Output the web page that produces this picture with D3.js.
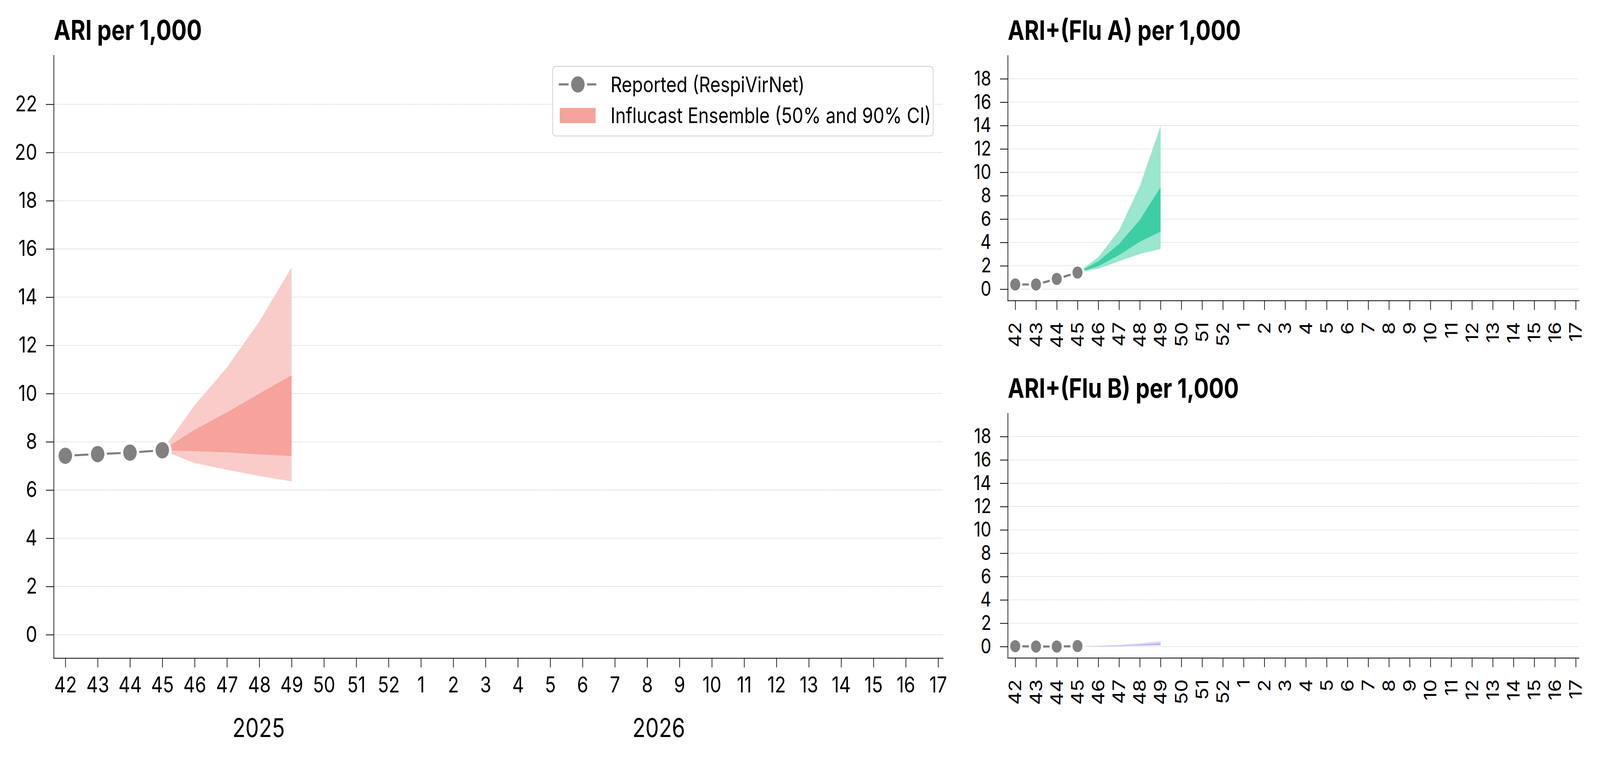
<!DOCTYPE html>
<html>
<head>
  <meta charset="utf-8">
  <script src="https://d3js.org/d3.v7.min.js"></script>
  <style>
    html, body { margin: 0; padding: 0; background: #fff; overflow: hidden; }
    #chart { display: block; width: 100vw; height: 100vh; }
    text { font-family: Inter, "Noto Sans", sans-serif; fill: #000; }
    .title { font-weight: 700; }
    .grid line { stroke: #cccccc; stroke-width: 1.3; stroke-dasharray: 3.5 1.5; }
    .axis path, .axis line { stroke: #000; stroke-width: 2; }
  </style>
</head>
<body>
<!-- drawn in 4948x1950 units, stretched to whatever window we get -->
<svg id="chart" viewBox="0 0 4948 1950" preserveAspectRatio="none"></svg>
<script>
  // week labels on the x axis (season 2025/26)
  const weekLabels = ["42", "43", "44", "45", "46", "47", "48", "49", "50", "51", "52",
    "1", "2", "3", "4", "5", "6", "7", "8", "9", "10", "11", "12", "13", "14", "15", "16", "17"];
  const reportedWeeks = ["42", "43", "44", "45"];
  const forecastWeeks = ["45", "46", "47", "48", "49"];

  // ARI per 1,000
  const ariReported = [7.42, 7.49, 7.55, 7.65];
  const ariQ05 = [7.65, 7.12, 6.84, 6.58, 6.36];
  const ariQ25 = [7.65, 7.61, 7.56, 7.48, 7.41];
  const ariQ75 = [7.65, 8.50, 9.22, 10.00, 10.76];
  const ariQ95 = [7.65, 9.52, 11.08, 12.99, 15.23];

  // ARI+ (Flu A) per 1,000
  const fluAReported = [0.40, 0.40, 0.88, 1.42];
  const fluAQ05 = [1.42, 1.75, 2.38, 3.02, 3.44];
  const fluAQ25 = [1.42, 1.96, 2.92, 4.05, 4.92];
  const fluAQ75 = [1.42, 2.38, 3.86, 5.93, 8.72];
  const fluAQ95 = [1.42, 2.73, 5.03, 8.81, 13.96];

  // ARI+ (Flu B) per 1,000
  const fluBReported = [0.03, 0.00, 0.00, 0.04];
  const fluBQ05 = [0.04, 0.01, 0.03, 0.06, 0.10];
  const fluBQ25 = [0.04, 0.02, 0.05, 0.09, 0.14];
  const fluBQ75 = [0.04, 0.04, 0.08, 0.16, 0.28];
  const fluBQ95 = [0.04, 0.06, 0.14, 0.27, 0.46];

  const ariTicks = [0, 2, 4, 6, 8, 10, 12, 14, 16, 18, 20, 22];
  const fluTicks = [0, 2, 4, 6, 8, 10, 12, 14, 16, 18];

  const years = ["2025", "2026"];
  const yearAt = [5.98, 18.36];   // position on the week index axis

  const legendLabels = ["Reported (RespiVirNet)", "Influcast Ensemble (50% and 90% CI)"];

  const svg = d3.select("#chart");
  const weekIndex = w => weekLabels.indexOf(w);

  function drawPanel(p) {
    const g = svg.append("g");
    const x = d3.scaleLinear().domain([-0.36, 27.15]).range([p.left, p.right]);
    const y = d3.scaleLinear().domain(p.yDomain).range([p.bottom, p.top]);

    // grid
    g.append("g").attr("class", "grid")
      .selectAll("line").data(p.yTicks).join("line")
      .attr("x1", p.left).attr("x2", p.right)
      .attr("y1", d => y(d)).attr("y2", d => y(d));

    // forecast bands, 90% under 50%
    const fc = forecastWeeks.map((w, i) => ({ i: weekIndex(w), q05: p.q05[i], q25: p.q25[i], q75: p.q75[i], q95: p.q95[i] }));
    g.append("path").datum(fc)
      .attr("fill", p.light)
      .attr("d", d3.area().x(d => x(d.i)).y0(d => y(d.q05)).y1(d => y(d.q95)));
    g.append("path").datum(fc)
      .attr("fill", p.dark)
      .attr("d", d3.area().x(d => x(d.i)).y0(d => y(d.q25)).y1(d => y(d.q75)));

    // reported
    const rep = reportedWeeks.map((w, i) => ({ i: weekIndex(w), v: p.reported[i] }));
    g.append("path").datum(rep)
      .attr("fill", "none").attr("stroke", "#808080").attr("stroke-width", p.lineW)
      .attr("d", d3.line().x(d => x(d.i)).y(d => y(d.v)));
    g.selectAll("circle.pt").data(rep).join("circle")
      .attr("class", "pt")
      .attr("cx", d => x(d.i)).attr("cy", d => y(d.v))
      .attr("r", p.r).attr("fill", "#808080")
      .attr("stroke", "#fff").attr("stroke-width", p.edge);

    // axes
    const xAxis = d3.axisBottom(x).tickValues(d3.range(weekLabels.length))
      .tickFormat(i => weekLabels[i]).tickSize(24).tickSizeOuter(0).tickPadding(24);
    const xg = g.append("g").attr("class", "axis")
      .attr("transform", `translate(0,${p.bottom})`).call(xAxis);
    xg.selectAll("text").style("font-size", p.tickFont + "px");
    if (p.rotate) {
      xg.selectAll("text")
        .attr("transform", "rotate(-90)")
        .attr("x", -p.rotOffset).attr("y", 0).attr("dy", "0.35em")
        .attr("text-anchor", "end");
    }

    const yAxis = d3.axisLeft(y).tickValues(p.yTicks).tickSize(24).tickSizeOuter(0).tickPadding(27);
    const yg = g.append("g").attr("class", "axis")
      .attr("transform", `translate(${p.left},0)`).call(yAxis);
    yg.selectAll("text").style("font-size", p.tickFont + "px");
    g.selectAll(".axis .domain").attr("stroke-linecap", "square");

    g.append("text").attr("class", "title")
      .attr("x", p.left).attr("y", p.titleY)
      .style("font-size", p.titleFont + "px")
      .text(p.title);

    return { x, y, g };
  }

  const main = drawPanel({
    title: "ARI per 1,000", titleY: 102, titleFont: 70,
    left: 166, right: 2916, top: 141.6, bottom: 1684,
    yDomain: [-0.97, 24.03], yTicks: ariTicks,
    reported: ariReported, q05: ariQ05, q25: ariQ25, q75: ariQ75, q95: ariQ95,
    light: "#f9ccc9", dark: "#f6a39c",
    r: 24.8, edge: 7.9, lineW: 5.4, tickFont: 56, rotate: false
  });

  drawPanel({
    title: "ARI+(Flu A) per 1,000", titleY: 102, titleFont: 69,
    left: 3116.5, right: 4882.6, top: 141.8, bottom: 769,
    yDomain: [-0.97, 20.0], yTicks: fluTicks,
    reported: fluAReported, q05: fluAQ05, q25: fluAQ25, q75: fluAQ75, q95: fluAQ95,
    light: "#9ae6cf", dark: "#3ecea4",
    r: 18.8, edge: 6.6, lineW: 5.6, tickFont: 52, rotate: true, rotOffset: 55
  });

  drawPanel({
    title: "ARI+(Flu B) per 1,000", titleY: 1018.5, titleFont: 69,
    left: 3116.5, right: 4882.6, top: 1057.4, bottom: 1683.5,
    yDomain: [-0.97, 20.0], yTicks: fluTicks,
    reported: fluBReported, q05: fluBQ05, q25: fluBQ25, q75: fluBQ75, q95: fluBQ95,
    light: "#e0d4fc", dark: "#c4aafa",
    r: 18.8, edge: 6.6, lineW: 5.6, tickFont: 52, rotate: true, rotOffset: 55
  });

  // year labels under the main panel
  main.g.selectAll("text.year").data(years).join("text")
    .attr("class", "year")
    .attr("x", (d, i) => main.x(yearAt[i])).attr("y", 1886)
    .attr("text-anchor", "middle")
    .style("font-size", "66px")
    .text(d => d);

  // legend
  const lg = svg.append("g").attr("transform", "translate(1709,170)");
  lg.append("rect").attr("width", 1177).attr("height", 178).attr("rx", 10)
    .attr("fill", "#fff").attr("fill-opacity", 0.8)
    .attr("stroke", "#d6d6d6").attr("stroke-width", 2.5);
  lg.append("line").attr("x1", 19).attr("x2", 135).attr("y1", 46).attr("y2", 46)
    .attr("stroke", "#808080").attr("stroke-width", 5.4);
  lg.append("circle").attr("cx", 78).attr("cy", 46).attr("r", 24.8)
    .attr("fill", "#808080").attr("stroke", "#fff").attr("stroke-width", 7.9);
  lg.append("rect").attr("x", 22).attr("y", 106).attr("width", 111).attr("height", 39)
    .attr("fill", "#f6a39c");
  lg.selectAll("text").data(legendLabels).join("text")
    .attr("x", 179).attr("y", (d, i) => 46 + i * 79.5)
    .attr("dy", "0.36em")
    .style("font-size", "55px")
    .text(d => d);
</script>
</body>
</html>
